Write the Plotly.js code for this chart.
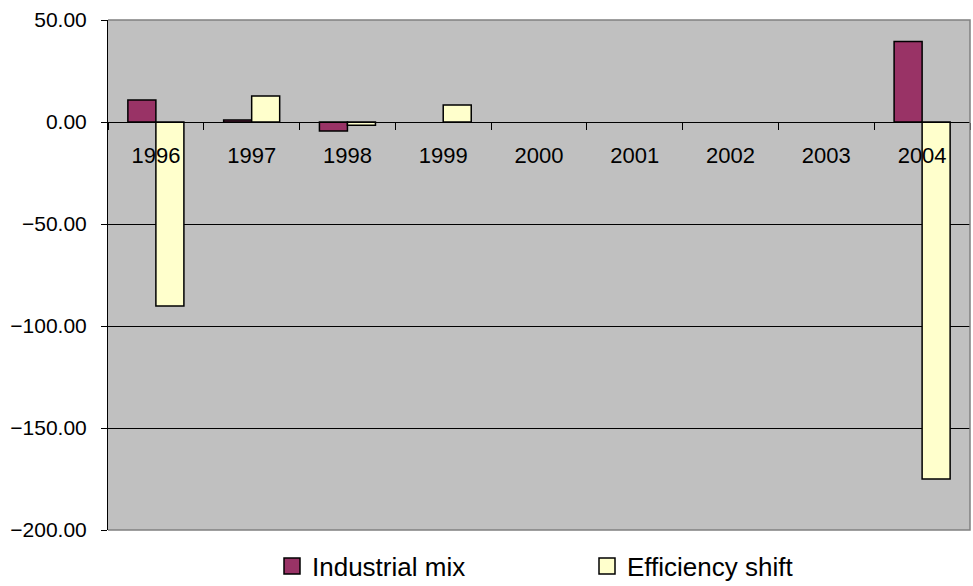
<!DOCTYPE html>
<html>
<head>
<meta charset="utf-8">
<script src="https://cdn.plot.ly/plotly-3.0.1.min.js"></script>
<style>html,body{margin:0;padding:0;background:#fff;}#chart{width:973px;height:586px;}</style>
</head>
<body>
<div id="chart"></div>
<script>
var years = ['1996','1997','1998','1999','2000','2001','2002','2003','2004'];
var industrialMix = [10.8, 1.0, -4.4, null, null, null, null, null, 39.5];
var efficiencyShift = [-90.2, 12.7, -1.6, 8.3, null, null, null, null, -175.0];
var seriesNames = ['Industrial mix', 'Efficiency shift'];
var seriesColors = ['#993366', '#FFFFCC'];

var FONT = 'Liberation Sans, Arial, sans-serif';

var traces = [
  {type:'bar', name:seriesNames[0], x:years, y:industrialMix, showlegend:false, legendgroup:'a',
   marker:{color:seriesColors[0], line:{color:'#000', width:1.5}}},
  {type:'bar', name:seriesNames[1], x:years, y:efficiencyShift, showlegend:false, legendgroup:'b',
   marker:{color:seriesColors[1], line:{color:'#000', width:1.5}}},
  // legend-only entries (larger square swatches)
  {type:'scatter', mode:'markers', name:seriesNames[0], x:[null], y:[null], legendgroup:'a', hoverinfo:'skip',
   marker:{symbol:'square', size:16, color:seriesColors[0], line:{color:'#000', width:1.5}}},
  {type:'scatter', mode:'markers', name:seriesNames[1], x:[null], y:[null], legendgroup:'b', hoverinfo:'skip',
   marker:{symbol:'square', size:16, color:seriesColors[1], line:{color:'#000', width:1.5}}}
];

var layout = {
  width:973, height:586,
  margin:{l:108, r:3, t:20, b:56},
  paper_bgcolor:'#fff', plot_bgcolor:'#C0C0C0',
  barmode:'group', bargap:0.415, bargroupgap:0,
  font:{family:FONT, color:'#000'},
  xaxis:{type:'category', categoryarray:years, categoryorder:'array', anchor:'free', position:0.8, showline:true, linecolor:'#000', linewidth:1,
         ticks:'outside', ticklen:7, tickcolor:'#000', tickson:'boundaries',
         showgrid:false, zeroline:false, tickfont:{size:22, family:FONT}, ticklabelstandoff:14, fixedrange:true},
  yaxis:{range:[-200,50], dtick:50, tick0:0, tickformat:'.2f', showline:true, linecolor:'#000', linewidth:1,
         ticks:'outside', ticklen:6, tickcolor:'#000', showgrid:true, gridcolor:'#000', gridwidth:1,
         zeroline:false, tickfont:{size:21, family:FONT}, ticklabelstandoff:10, fixedrange:true},
  legend:{orientation:'h', xref:'container', yref:'container', x:272/973, xanchor:'left', y:20/586, yanchor:'middle',
          font:{size:26, family:FONT}, entrywidth:270, entrywidthmode:'pixels', bgcolor:'rgba(0,0,0,0)',
          borderwidth:0, itemclick:false, itemsizing:'trace'},
  shapes:[{type:'path', xref:'paper', yref:'paper', path:'M0,1 L1,1 L1,0 L0,0', line:{color:'#808080', width:1.5}, layer:'above'}],
  showlegend:true
};

Plotly.newPlot('chart', traces, layout, {displayModeBar:false, staticPlot:true});
</script>
</body>
</html>
